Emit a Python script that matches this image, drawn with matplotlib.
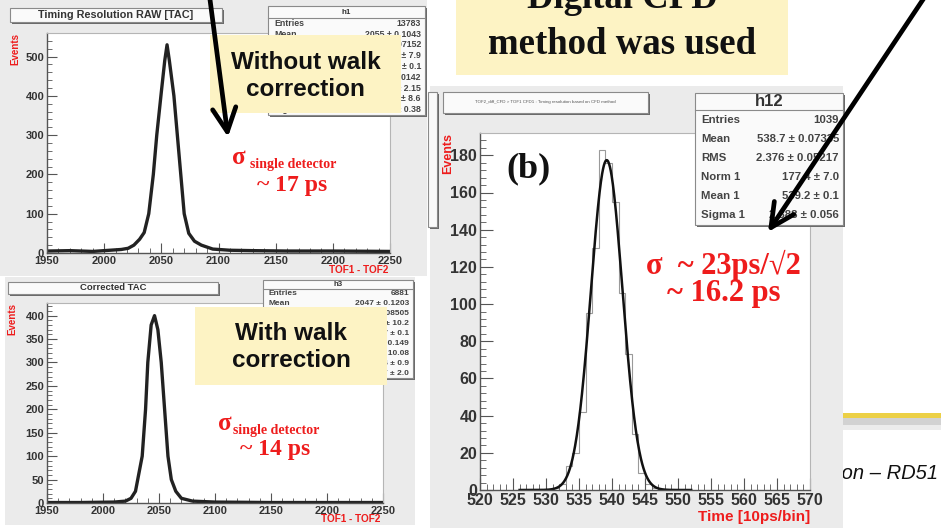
import numpy as np
import matplotlib
matplotlib.use("Agg")
import matplotlib.pyplot as plt
from matplotlib.patches import Rectangle
from matplotlib.ticker import MultipleLocator

raw_x = [1950, 1970, 1990, 2005, 2015, 2021, 2026, 2031, 2035, 2039, 2043, 2046, 2050,
         2053, 2055, 2057, 2061, 2064, 2067, 2070, 2074, 2079, 2085, 2095, 2110, 2130,
         2160, 2200, 2250]
raw_counts = [5, 6, 4, 7, 9, 12, 20, 35, 52, 100, 200, 300, 410, 490, 530, 490, 400, 300,
              200, 100, 50, 30, 20, 10, 7, 6, 5, 5, 4]

# walk-corrected TAC spectrum
corr_x = [1950, 1980, 2010, 2020, 2025, 2029, 2031, 2035, 2038, 2040, 2043, 2046, 2049,
          2052, 2055, 2058, 2061, 2065, 2070, 2080, 2100, 2150, 2250]
corr_counts = [1, 1, 2, 4, 10, 25, 50, 100, 200, 300, 380, 400, 370, 300, 200, 100, 50,
               25, 10, 4, 2, 1, 1]

# digital CFD histogram, 10 ps bins
cfd_edges = [530, 531, 532, 533, 534, 535, 536, 537, 538, 539, 540, 541, 542, 543, 544,
             545, 546, 547]
cfd_counts = [0, 1, 3, 13, 20, 42, 95, 130, 183, 176, 155, 106, 73, 30, 9, 3, 1]

# gaussian fit parameters from the h12 stats box
cfd_norm = 177.4
cfd_mean = 539.2
cfd_sigma = 2.388

h1_rows = [("Entries", "13783"), ("Mean", "2055 ± 0.1043"), ("RMS", "12.24 ± 0.07152"),
           ("Constant 1", "497.7 ± 7.9"), ("Mean 1", "2055 ± 0.1"),
           ("Sigma 1", "5.271 ± 0.0142"), ("Constant 2", "48.3 ± 2.15"),
           ("Mean 2", "2057 ± 8.6"), ("Sigma 2", "17.4 ± 0.38")]
h3_rows = [("Entries", "6881"), ("Mean", "2047 ± 0.1203"), ("RMS", "9.972 ± 0.08505"),
           ("Constant 1", "379.5 ± 10.2"), ("Mean 1", "2047 ± 0.1"),
           ("Sigma 1", "4.832 ± 0.149"), ("Constant 2", "36.1 ± 10.08"),
           ("Mean 2", "2046 ± 0.9"), ("Sigma 2", "9.7 ± 2.0")]
h12_rows = [("Entries", "1039"), ("Mean", "538.7 ± 0.07335"), ("RMS", "2.376 ± 0.05217"),
            ("Norm 1", "177.4 ± 7.0"), ("Mean 1", "539.2 ± 0.1"),
            ("Sigma 1", "2.388 ± 0.056")]

W, H = 941, 528
SANS = ["Liberation Sans", "DejaVu Sans"]
SERIF = ["Liberation Serif", "DejaVu Serif"]
RED = "#ee1c1c"
CANVAS = "#ebebeb"
YELLOW = "#fdf3c4"

plt.rcParams["font.family"] = SANS
fig = plt.figure(figsize=(W / 100, H / 100), dpi=100)

# slide layer, pixel coordinates with y going down
bg = fig.add_axes([0, 0, 1, 1], zorder=0)
bg.set_xlim(0, W)
bg.set_ylim(H, 0)
bg.axis("off")

ov = fig.add_axes([0, 0, 1, 1], zorder=10)
ov.set_xlim(0, W)
ov.set_ylim(H, 0)
ov.axis("off")
ov.patch.set_alpha(0)


def rect(ax, x0, y0, x1, y1, fc, ec="none", lw=0.0, z=1):
    ax.add_patch(Rectangle((x0, y0), x1 - x0, y1 - y0, facecolor=fc, edgecolor=ec,
                           linewidth=lw, zorder=z))


def root_box(ax, x0, y0, x1, y1, z=3):
    rect(ax, x0 + 2, y0 + 2, x1 + 2, y1 + 2, "#6a6a6a", z=z)
    rect(ax, x0, y0, x1, y1, "#fafafa", "#8a8a8a", 0.8, z=z + 0.1)


def stats_box(ax, x0, y0, x1, y1, title, rows, fs, title_fs, head):
    root_box(ax, x0, y0, x1, y1)
    ax.plot([x0, x1], [y0 + head, y0 + head], color="#8a8a8a", lw=0.8, zorder=3.2)
    ax.text((x0 + x1) / 2, y0 + head / 2, title, ha="center", va="center",
            fontsize=title_fs, fontweight="bold", color="#333333", zorder=3.3)
    step = (y1 - y0 - head) / len(rows)
    for i, (name, val) in enumerate(rows):
        yy = y0 + head + step * (i + 0.5)
        ax.text(x0 + 6, yy, name, ha="left", va="center", fontsize=fs,
                fontweight="bold", color="#444444", zorder=3.3)
        ax.text(x1 - 4, yy, val, ha="right", va="center", fontsize=fs,
                fontweight="bold", color="#444444", zorder=3.3)


def panel(x0, y0, x1, y1):
    ax = fig.add_axes([x0 / W, 1 - y1 / H, (x1 - x0) / W, (y1 - y0) / H], zorder=5)
    ax.set_facecolor("white")
    for side in ("top", "right"):
        ax.spines[side].set_color("#b5b5b5")
        ax.spines[side].set_linewidth(0.8)
    for side in ("left", "bottom"):
        ax.spines[side].set_color("#555555")
        ax.spines[side].set_linewidth(1.0)
    ax.tick_params(which="both", direction="in", top=False, right=False,
                   color="#555555")
    return ax


# footer line and text of the slide, partly hidden by the CFD canvas
rect(bg, 800, 413, W, 418, "#ecd046", z=1)
rect(bg, 800, 418, W, 425, "#d2d2d2", z=1)
rect(bg, 800, 425, W, 430, "#ececec", z=1)
bg.text(938, 479, "Collaboration – RD51", ha="right", va="baseline", fontsize=14.5,
        style="italic", color="#111111", zorder=1)

# ROOT canvases
rect(bg, 0, 0, 427, 276, CANVAS, z=2)
rect(bg, 5, 277, 415, 525, CANVAS, z=2)
rect(bg, 430, 86, 843, H, CANVAS, z=2)
root_box(bg, 428, 92, 437, 227)

# --- raw TAC ---
ax1 = panel(47, 33, 390, 253)
ax1.plot(raw_x, raw_counts, color="#222222", lw=2.4)
ax1.set_xlim(1950, 2250)
ax1.set_ylim(0, 560)
ax1.xaxis.set_major_locator(MultipleLocator(50))
ax1.xaxis.set_minor_locator(MultipleLocator(10))
ax1.yaxis.set_major_locator(MultipleLocator(100))
ax1.yaxis.set_minor_locator(MultipleLocator(20))
ax1.tick_params(which="major", length=7, labelsize=8, pad=2, labelcolor="#333333")
ax1.tick_params(which="minor", length=3.5)
for lab in ax1.get_xticklabels() + ax1.get_yticklabels():
    lab.set_fontweight("bold")

bg.text(15, 33, "Events", rotation=90, ha="center", va="top", fontsize=7,
        fontweight="bold", color=RED, zorder=3)
bg.text(388, 270, "TOF1 - TOF2", ha="right", va="center", fontsize=7.2,
        fontweight="bold", color=RED, zorder=3)
root_box(bg, 10, 8, 222, 22)
bg.text(116, 15, "Timing Resolution RAW [TAC]", ha="center", va="center", fontsize=7.8,
        fontweight="bold", color="#333333", zorder=4)

# --- corrected TAC ---
ax2 = panel(47, 303, 383, 503)
ax2.plot(corr_x, corr_counts, color="#222222", lw=2.4)
ax2.set_xlim(1950, 2250)
ax2.set_ylim(0, 427)
ax2.xaxis.set_major_locator(MultipleLocator(50))
ax2.xaxis.set_minor_locator(MultipleLocator(10))
ax2.yaxis.set_major_locator(MultipleLocator(50))
ax2.yaxis.set_minor_locator(MultipleLocator(10))
ax2.tick_params(which="major", length=7, labelsize=8, pad=2, labelcolor="#333333")
ax2.tick_params(which="minor", length=3.5)
for lab in ax2.get_xticklabels() + ax2.get_yticklabels():
    lab.set_fontweight("bold")

bg.text(12, 303, "Events", rotation=90, ha="center", va="top", fontsize=7,
        fontweight="bold", color=RED, zorder=3)
bg.text(380, 519, "TOF1 - TOF2", ha="right", va="center", fontsize=7.2,
        fontweight="bold", color=RED, zorder=3)
root_box(bg, 8, 282, 218, 294)
bg.text(113, 288, "Corrected TAC", ha="center", va="center", fontsize=6.8,
        fontweight="bold", color="#333333", zorder=4)

# --- digital CFD ---
ax3 = panel(480, 133, 810, 490)
ax3.stairs(cfd_counts, cfd_edges, color="#9a9a9a", lw=0.8)
fx = np.linspace(526, 552, 400)
ax3.plot(fx, cfd_norm * np.exp(-0.5 * ((fx - cfd_mean) / cfd_sigma) ** 2),
         color="#111111", lw=1.8)
ax3.set_xlim(520, 570)
ax3.set_ylim(0, 192)
ax3.xaxis.set_major_locator(MultipleLocator(5))
ax3.xaxis.set_minor_locator(MultipleLocator(1))
ax3.yaxis.set_major_locator(MultipleLocator(20))
ax3.yaxis.set_minor_locator(MultipleLocator(4))
ax3.tick_params(which="major", length=9, labelsize=11.5, pad=2, labelcolor="#333333")
ax3.tick_params(which="minor", length=4.5)
for lab in ax3.get_xticklabels() + ax3.get_yticklabels():
    lab.set_fontweight("bold")
ax3.text(0.08, 0.90, "(b)", transform=ax3.transAxes, ha="left", va="center",
         fontsize=26, fontweight="bold", family=SERIF, color="#111111")

bg.text(448, 133, "Events", rotation=90, ha="center", va="top", fontsize=9,
        fontweight="bold", color=RED, zorder=3)
bg.text(810, 517, "Time [10ps/bin]", ha="right", va="center", fontsize=11,
        fontweight="bold", color=RED, zorder=3)
root_box(bg, 443, 92, 648, 113)
bg.text(545.5, 102.5, "TOF2_diff_CFD > TOF1 CFD1 : Timing resolution based on CFD method",
        ha="center", va="center", fontsize=3.2, color="#555555", zorder=4)

# stats boxes sit above the frames
stats_box(ov, 268, 6, 425, 115, "h1", h1_rows, 6.3, 5.8, 12)
stats_box(ov, 263, 280, 413, 378, "h3", h3_rows, 6.0, 5.6, 9)
stats_box(ov, 695, 93, 843, 225, "h12", h12_rows, 8.2, 12, 17)

# resolution labels
for sx, sy, dx, dy, tx, ty, txt in [(232, 164, 250, 168, 292, 185, "~ 17 ps"),
                                    (218, 430, 233, 434, 275, 449, "~ 14 ps")]:
    ov.text(sx, sy, "σ", ha="left", va="baseline", fontsize=18, fontweight="bold",
            family=SERIF, color=RED, zorder=4)
    ov.text(dx, dy, "single detector", ha="left", va="baseline", fontsize=10,
            fontweight="bold", family=SERIF, color=RED, zorder=4)
    ov.text(tx, ty, txt, ha="center", va="center", fontsize=17, fontweight="bold",
            family=SERIF, color=RED, zorder=4)
ov.text(723, 265, "σ  ~ 23ps/√2", ha="center", va="center", fontsize=22,
        fontweight="bold", family=SERIF, color=RED, zorder=4)
ov.text(724, 293, "~ 16.2 ps", ha="center", va="center", fontsize=22,
        fontweight="bold", family=SERIF, color=RED, zorder=4)

# callouts
rect(ov, 210, 35, 401, 113, YELLOW, z=5)
ov.text(305.5, 76, "Without walk\ncorrection", ha="center", va="center", fontsize=17.5,
        fontweight="bold", linespacing=1.2, color="#111111", zorder=6)
rect(ov, 195, 307, 387, 385, YELLOW, z=5)
ov.text(291, 347, "With walk\ncorrection", ha="center", va="center", fontsize=17.5,
        fontweight="bold", linespacing=1.2, color="#111111", zorder=6)
rect(ov, 456, -5, 788, 75, YELLOW, z=5)
ov.text(622, 45, "method was used", ha="center", va="center", fontsize=26.5,
        fontweight="bold", family=SERIF, color="#111111", zorder=6)
ov.text(622, 8, "Digital CFD", ha="center", va="baseline", fontsize=26.5,
        fontweight="bold", family=SERIF, color="#111111", zorder=6)

# pointer arrows
arrow = dict(arrowstyle="->,head_length=0.85,head_width=0.42", lw=3.4, color="black",
             mutation_scale=20, shrinkA=0, shrinkB=0)
ov.annotate("", xy=(228, 137), xytext=(209, -8), arrowprops=arrow, zorder=7)
ov.annotate("", xy=(768, 232), xytext=(928, -8), arrowprops=arrow, zorder=7)

fig.savefig("out.png", dpi=100)
